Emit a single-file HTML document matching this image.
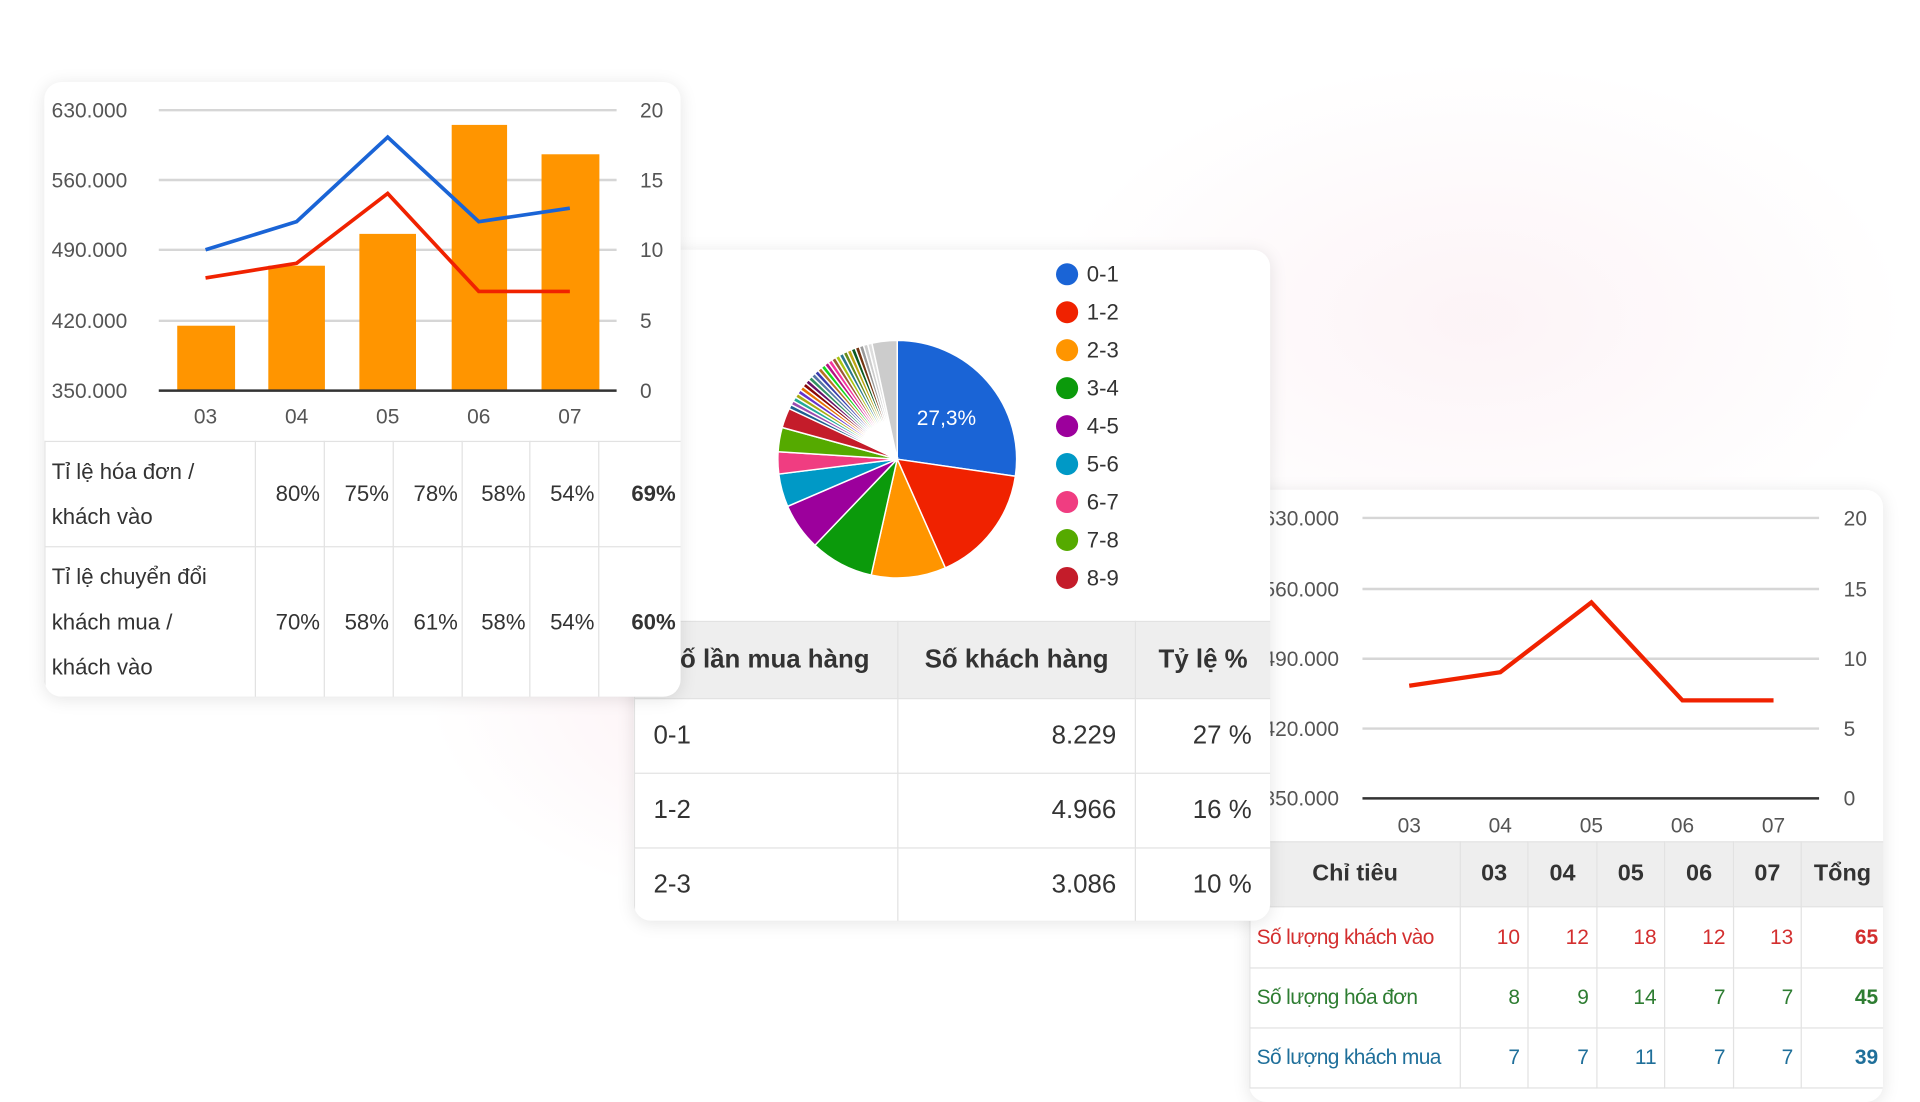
<!DOCTYPE html>
<html><head><meta charset="utf-8">
<style>
html,body{margin:0;padding:0;width:1920px;height:1080px;overflow:hidden;background:#fff;font-family:"Liberation Sans","DejaVu Sans",sans-serif;}
#w{position:absolute;left:0;top:0;width:1560px;height:882px;transform-origin:0 0;transform:scale(1.23077,1.22449);
background:radial-gradient(ellipse 420px 260px at 640px 560px,rgba(250,225,232,0.55),rgba(255,255,255,0) 70%),radial-gradient(ellipse 500px 300px at 1200px 260px,rgba(250,232,238,0.5),rgba(255,255,255,0) 70%),#fff;}
.card{position:absolute;background:#fff;border-radius:14px;box-shadow:0 2px 14px rgba(0,0,0,0.10);overflow:hidden;}
table{border-collapse:collapse;position:absolute;color:#333;table-layout:fixed;}
td,th{border:1.5px solid #e2e2e2;padding:0;white-space:nowrap;}
svg text{font-family:"Liberation Sans","DejaVu Sans",sans-serif;}
</style></head><body>
<div id="w">

<!-- card 3 (back) -->
<div class="card" style="left:1015px;top:400px;width:515px;height:500px;">
<svg width="515" height="290" style="position:absolute;left:0;top:0">
<g stroke="#d6d6d6" stroke-width="2">
<line x1="92" x2="463" y1="23" y2="23"/><line x1="92" x2="463" y1="81" y2="81"/><line x1="92" x2="463" y1="138" y2="138"/><line x1="92" x2="463" y1="195" y2="195"/></g>
<line x1="92" x2="463" y1="252" y2="252" stroke="#333" stroke-width="2"/>
<g font-size="17" fill="#555" text-anchor="end">
<text x="73" y="29">630.000</text><text x="73" y="87">560.000</text><text x="73" y="144">490.000</text><text x="73" y="201">420.000</text><text x="73" y="258">350.000</text></g>
<g font-size="17" fill="#555"><text x="483" y="29">20</text><text x="483" y="87">15</text><text x="483" y="144">10</text><text x="483" y="201">5</text><text x="483" y="258">0</text></g>
<g font-size="17" fill="#555" text-anchor="middle"><text x="130" y="280">03</text><text x="204" y="280">04</text><text x="278" y="280">05</text><text x="352" y="280">06</text><text x="426" y="280">07</text></g>
<polyline points="130,160 204,149 278,92 352,172 426,172" fill="none" stroke="#f02200" stroke-width="3.5"/>
</svg>
<table style="left:0;top:287px;width:515px;font-size:17px;">
<colgroup><col style="width:171px"><col style="width:55px"><col style="width:56px"><col style="width:55px"><col style="width:56px"><col style="width:55px"><col style="width:67px"></colgroup>
<tr style="height:53px;background:#eeeeee;font-weight:bold;font-size:19px;"><th>Chỉ tiêu</th><th>03</th><th>04</th><th>05</th><th>06</th><th>07</th><th>Tổng</th></tr>
<tr style="height:50px;color:#d32f2f;text-align:right"><td style="text-align:left;padding-left:5px;letter-spacing:-0.5px">Số lượng khách vào</td><td style="padding-right:6px">10</td><td style="padding-right:6px">12</td><td style="padding-right:6px">18</td><td style="padding-right:6px">12</td><td style="padding-right:6px">13</td><td style="padding-right:4px;font-weight:bold">65</td></tr>
<tr style="height:49px;color:#2e7d32;text-align:right"><td style="text-align:left;padding-left:5px;letter-spacing:-0.5px">Số lượng hóa đơn</td><td style="padding-right:6px">8</td><td style="padding-right:6px">9</td><td style="padding-right:6px">14</td><td style="padding-right:6px">7</td><td style="padding-right:6px">7</td><td style="padding-right:4px;font-weight:bold">45</td></tr>
<tr style="height:49px;color:#1f6f9a;text-align:right"><td style="text-align:left;padding-left:5px;letter-spacing:-0.5px">Số lượng khách mua</td><td style="padding-right:6px">7</td><td style="padding-right:6px">7</td><td style="padding-right:6px">11</td><td style="padding-right:6px">7</td><td style="padding-right:6px">7</td><td style="padding-right:4px;font-weight:bold">39</td></tr>
</table>
</div>

<!-- card 2 (middle) -->
<div class="card" style="left:515px;top:204px;width:517px;height:548px;">
<svg id="pie" width="517" height="300" style="position:absolute;left:0;top:0"></svg>
<table style="left:0;top:303px;width:517px;font-size:21px;">
<colgroup><col style="width:214px"><col style="width:193px"><col style="width:110px"></colgroup>
<tr style="height:63px;background:#eeeeee;font-weight:bold;"><th>Số lần mua hàng</th><th>Số khách hàng</th><th>Tỷ lệ %</th></tr>
<tr style="height:61px"><td style="padding-left:15px">0-1</td><td style="text-align:right;padding-right:15px">8.229</td><td style="text-align:right;padding-right:15px">27 %</td></tr>
<tr style="height:61px"><td style="padding-left:15px">1-2</td><td style="text-align:right;padding-right:15px">4.966</td><td style="text-align:right;padding-right:15px">16 %</td></tr>
<tr style="height:60px"><td style="padding-left:15px">2-3</td><td style="text-align:right;padding-right:15px">3.086</td><td style="text-align:right;padding-right:15px">10 %</td></tr>
</table>
</div>

<!-- card 1 (front) -->
<div class="card" style="left:36px;top:67px;width:517px;height:502px;">
<svg width="517" height="295" style="position:absolute;left:0;top:0">
<g stroke="#d6d6d6" stroke-width="2">
<line x1="93" x2="465" y1="23" y2="23"/><line x1="93" x2="465" y1="80" y2="80"/><line x1="93" x2="465" y1="137" y2="137"/><line x1="93" x2="465" y1="195" y2="195"/></g>
<g fill="#ff9500">
<rect x="108" y="199" width="47" height="53"/><rect x="182" y="150" width="46" height="102"/><rect x="256" y="124" width="46" height="128"/><rect x="331" y="35" width="45" height="217"/><rect x="404" y="59" width="47" height="193"/></g>
<line x1="93" x2="465" y1="252" y2="252" stroke="#333" stroke-width="2"/>
<g font-size="17" fill="#555"><text x="6" y="29">630.000</text><text x="6" y="86">560.000</text><text x="6" y="143">490.000</text><text x="6" y="201">420.000</text><text x="6" y="258">350.000</text></g>
<g font-size="17" fill="#555"><text x="484" y="29">20</text><text x="484" y="86">15</text><text x="484" y="143">10</text><text x="484" y="201">5</text><text x="484" y="258">0</text></g>
<g font-size="17" fill="#555" text-anchor="middle"><text x="131" y="279">03</text><text x="205" y="279">04</text><text x="279" y="279">05</text><text x="353" y="279">06</text><text x="427" y="279">07</text></g>
<polyline points="131,137 205,114 279,45 353,114 427,103" fill="none" stroke="#1a64d6" stroke-width="3"/>
<polyline points="131,160 205,148 279,91 353,171 427,171" fill="none" stroke="#f02200" stroke-width="3"/>
</svg>
<table style="left:0;top:293px;width:517px;font-size:18px;line-height:37px;">
<colgroup><col style="width:171px"><col style="width:56px"><col style="width:56px"><col style="width:56px"><col style="width:55px"><col style="width:56px"><col style="width:67px"></colgroup>
<tr style="height:86px"><td style="padding-left:5px;vertical-align:middle">Tỉ lệ hóa đơn /<br>khách vào</td><td style="text-align:right;padding-right:3px">80%</td><td style="text-align:right;padding-right:3px">75%</td><td style="text-align:right;padding-right:3px">78%</td><td style="text-align:right;padding-right:3px">58%</td><td style="text-align:right;padding-right:3px">54%</td><td style="text-align:right;padding-right:4px;font-weight:bold">69%</td></tr>
<tr style="height:123px"><td style="padding-left:5px">Tỉ lệ chuyển đổi<br>khách mua /<br>khách vào</td><td style="text-align:right;padding-right:3px">70%</td><td style="text-align:right;padding-right:3px">58%</td><td style="text-align:right;padding-right:3px">61%</td><td style="text-align:right;padding-right:3px">58%</td><td style="text-align:right;padding-right:3px">54%</td><td style="text-align:right;padding-right:4px;font-weight:bold">60%</td></tr>
</table>
</div>

</div>
<script>
(function(){
var svg=document.getElementById('pie'),ns='http://www.w3.org/2000/svg';
var cx=214,cy=171,r=97;
var main=[[27.3,'#1a64d6'],[16.1,'#f02200'],[10.1,'#ff9500'],[8.6,'#0b9a0b'],[6.4,'#9c009c'],[4.5,'#0099c6'],[3.0,'#f03d81'],[3.3,'#55aa00'],[2.7,'#c41c2a']];
var small=['#1e5f8f','#9b4bb0','#22aa99','#aaaa11','#6633cc','#e67300','#8b0707','#651067','#329262','#5574a6','#3b3eac','#b77322','#16d620','#b91383','#f4359e','#9c5935','#a9c413','#2a778d','#668d1c','#bea413','#0c5922','#743411','#999','#ccc','#ddd'];
var rest=100-main.reduce(function(a,b){return a+b[0]},0)-3.4;
var segs=main.slice();
for(var i=0;i<small.length;i++)segs.push([rest/small.length,small[i]]);
segs.push([3.4,'#cccccc']);
var a=-90;
segs.forEach(function(s){
 var a2=a+s[0]*3.6;
 var r1=a*Math.PI/180,r2=a2*Math.PI/180;
 var p=document.createElementNS(ns,'path');
 p.setAttribute('d','M'+cx+','+cy+' L'+(cx+r*Math.cos(r1))+','+(cy+r*Math.sin(r1))+' A'+r+','+r+' 0 '+((a2-a)>180?1:0)+' 1 '+(cx+r*Math.cos(r2))+','+(cy+r*Math.sin(r2))+' Z');
 p.setAttribute('fill',s[1]);p.setAttribute('stroke','#fff');p.setAttribute('stroke-width','1.2');
 svg.appendChild(p);a=a2;
});
var t=document.createElementNS(ns,'text');t.setAttribute('x',254);t.setAttribute('y',143);t.setAttribute('fill','#fff');t.setAttribute('font-size','17');t.setAttribute('text-anchor','middle');t.textContent='27,3%';svg.appendChild(t);
var L=['0-1','1-2','2-3','3-4','4-5','5-6','6-7','7-8','8-9'];
for(var j=0;j<9;j++){
 var c=document.createElementNS(ns,'circle');c.setAttribute('cx',352);c.setAttribute('cy',20+31*j);c.setAttribute('r',9);c.setAttribute('fill',main[j][1]);svg.appendChild(c);
 var tx=document.createElementNS(ns,'text');tx.setAttribute('x',368);tx.setAttribute('y',26+31*j);tx.setAttribute('font-size','18');tx.setAttribute('fill','#333');tx.textContent=L[j];svg.appendChild(tx);
}
})();
</script>
</body></html>
